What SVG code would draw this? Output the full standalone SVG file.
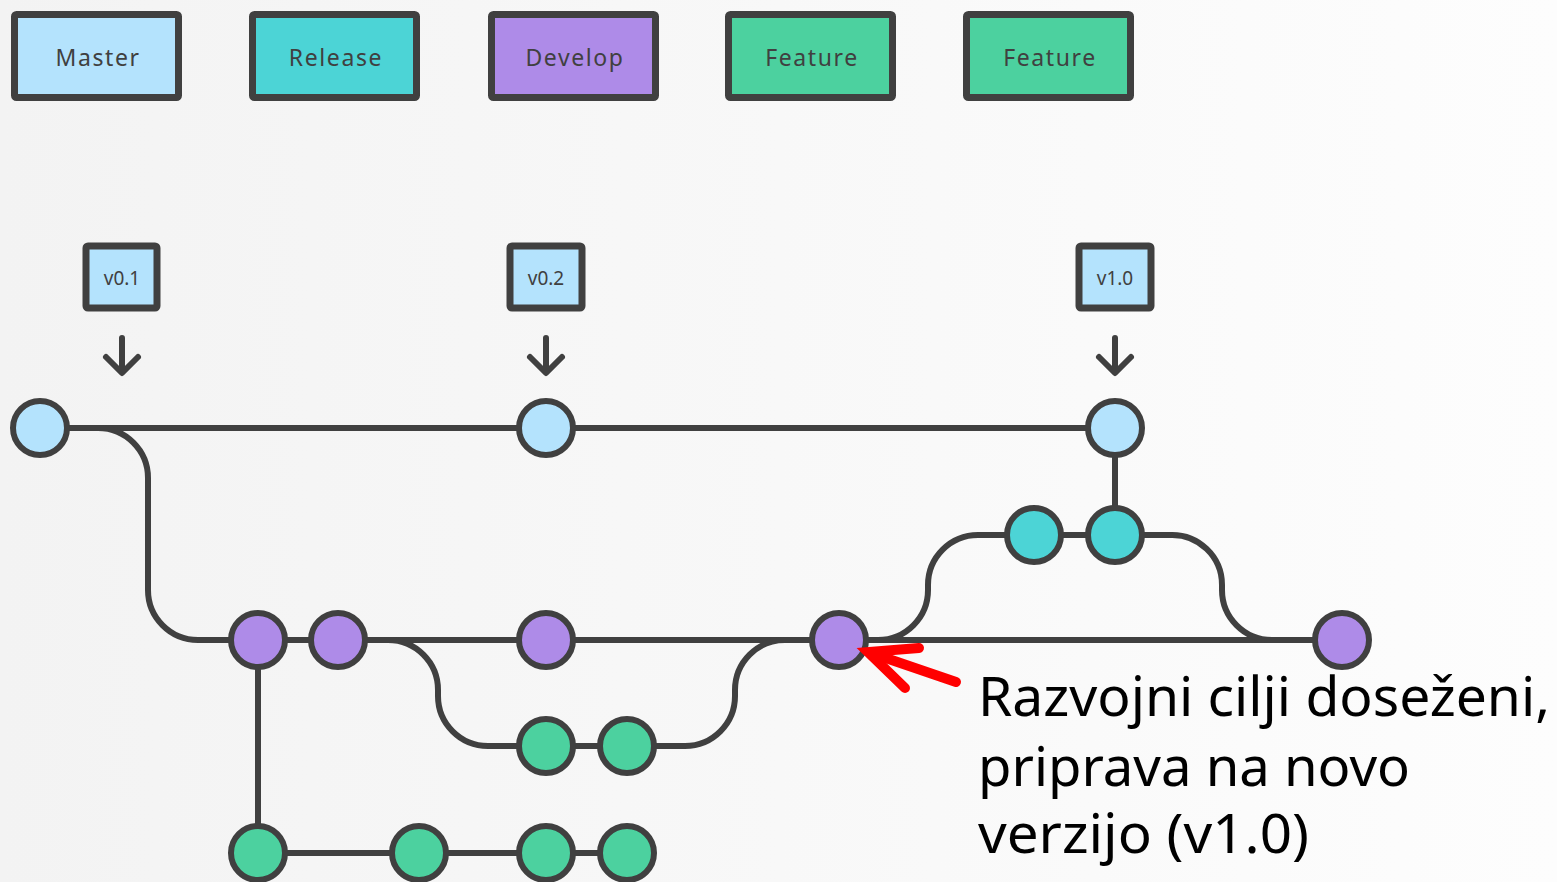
<svg xmlns="http://www.w3.org/2000/svg" width="1557" height="882" viewBox="0 0 1557 882">
  <defs>
    <linearGradient id="bg" x1="0" y1="0" x2="1" y2="0">
      <stop offset="0" stop-color="#f3f3f3"/>
      <stop offset="0.5" stop-color="#f8f8f8"/>
      <stop offset="1" stop-color="#fdfdfd"/>
    </linearGradient>
    <style>
      .box { stroke: #404040; stroke-width: 7; }
      .master { fill: #b4e3fd; }
      .release { fill: #4cd4d6; }
      .develop { fill: #ae8be8; }
      .feature { fill: #4cd19f; }
      .legend { font-family: "Noto Sans", "Open Sans", sans-serif; font-size: 23px; fill: #404040; letter-spacing: 1.6px; text-anchor: middle; }
      .tag { font-family: "Noto Sans", "Open Sans", sans-serif; font-size: 19px; fill: #404040; text-anchor: middle; }
      .wire { fill: none; stroke: #404040; stroke-width: 6; }
      .pointer { fill: none; stroke: #404040; stroke-width: 6; stroke-linecap: round; stroke-linejoin: round; }
      .commit { stroke: #404040; stroke-width: 6; }
      .note { font-family: "Noto Sans", "Open Sans", sans-serif; font-size: 54px; fill: #000000; }
      .callout { fill: none; stroke: #ff0000; stroke-width: 10; stroke-linecap: round; }
    </style>
  </defs>

  <rect width="1557" height="882" fill="url(#bg)"/>

  <!-- legend -->
  <g id="legend-master">
    <rect class="box master" x="14.5" y="14.5" width="164" height="83" rx="2"/>
    <text class="legend" x="98" y="66">Master</text>
  </g>
  <g id="legend-release">
    <rect class="box release" x="252.5" y="14.5" width="164" height="83" rx="2"/>
    <text class="legend" x="336" y="66">Release</text>
  </g>
  <g id="legend-develop">
    <rect class="box develop" x="491.5" y="14.5" width="164" height="83" rx="2"/>
    <text class="legend" x="575" y="66">Develop</text>
  </g>
  <g id="legend-feature-1">
    <rect class="box feature" x="728.5" y="14.5" width="164" height="83" rx="2"/>
    <text class="legend" x="812" y="66">Feature</text>
  </g>
  <g id="legend-feature-2">
    <rect class="box feature" x="966.5" y="14.5" width="164" height="83" rx="2"/>
    <text class="legend" x="1050" y="66">Feature</text>
  </g>

  <!-- version tags -->
  <g id="tag-v01">
    <rect class="box master" x="86" y="246" width="71" height="62" rx="2"/>
    <text class="tag" x="122" y="285">v0.1</text>
    <path class="pointer" d="M122,338 V372 M106,357 L122,373 L138,357"/>
  </g>
  <g id="tag-v02">
    <rect class="box master" x="510" y="246" width="72" height="62" rx="2"/>
    <text class="tag" x="546" y="285">v0.2</text>
    <path class="pointer" d="M546,338 V372 M530,357 L546,373 L562,357"/>
  </g>
  <g id="tag-v10">
    <rect class="box master" x="1079" y="246" width="72" height="62" rx="2"/>
    <text class="tag" x="1115" y="285">v1.0</text>
    <path class="pointer" d="M1115,338 V372 M1099,357 L1115,373 L1131,357"/>
  </g>

  <!-- branch lines -->
  <g id="connectors">
    <path class="wire" d="M40,428 H1115"/>
    <path class="wire" d="M40,428 H98 A50,50 0 0 1 148,478 V590 A50,50 0 0 0 198,640 H1342"/>
    <path class="wire" d="M258,640 V853 H627"/>
    <path class="wire" d="M338,640 H388 A50,50 0 0 1 438,690 V696 A50,50 0 0 0 488,746 H685 A50,50 0 0 0 735,696 V690 A50,50 0 0 1 785,640"/>
    <path class="wire" d="M839,640 H878 A50,50 0 0 0 928,590 V585 A50,50 0 0 1 978,535 H1170 A50,50 0 0 1 1222,585 V590 A50,50 0 0 0 1272,640 H1342"/>
    <path class="wire" d="M1115,428 V535"/>
  </g>

  <!-- commits -->
  <g id="master-commits">
    <circle class="commit master" cx="40" cy="428" r="27"/>
    <circle class="commit master" cx="546" cy="428" r="27"/>
    <circle class="commit master" cx="1115" cy="428" r="27"/>
  </g>
  <g id="release-commits">
    <circle class="commit release" cx="1034" cy="535" r="27"/>
    <circle class="commit release" cx="1115" cy="535" r="27"/>
  </g>
  <g id="develop-commits">
    <circle class="commit develop" cx="258" cy="640" r="27"/>
    <circle class="commit develop" cx="338" cy="640" r="27"/>
    <circle class="commit develop" cx="546" cy="640" r="27"/>
    <circle class="commit develop" cx="839" cy="640" r="27"/>
    <circle class="commit develop" cx="1342" cy="640" r="27"/>
  </g>
  <g id="feature-commits-upper">
    <circle class="commit feature" cx="546" cy="746" r="27"/>
    <circle class="commit feature" cx="627" cy="746" r="27"/>
  </g>
  <g id="feature-commits-lower">
    <circle class="commit feature" cx="258" cy="853" r="27"/>
    <circle class="commit feature" cx="419" cy="853" r="27"/>
    <circle class="commit feature" cx="546" cy="853" r="27"/>
    <circle class="commit feature" cx="627" cy="853" r="27"/>
  </g>

  <!-- callout -->
  <g id="callout">
    <path class="callout" d="M956,682 L874,654"/>
    <path class="callout" stroke-linejoin="miter" d="M919,648 L868,652 L905,688"/>
    <text class="note" x="978" y="716" textLength="572" lengthAdjust="spacingAndGlyphs">Razvojni cilji doseženi,</text>
    <text class="note" x="978" y="786" textLength="432" lengthAdjust="spacingAndGlyphs">priprava na novo</text>
    <text class="note" x="978" y="853" textLength="331" lengthAdjust="spacingAndGlyphs">verzijo (v1.0)</text>
  </g>
</svg>
